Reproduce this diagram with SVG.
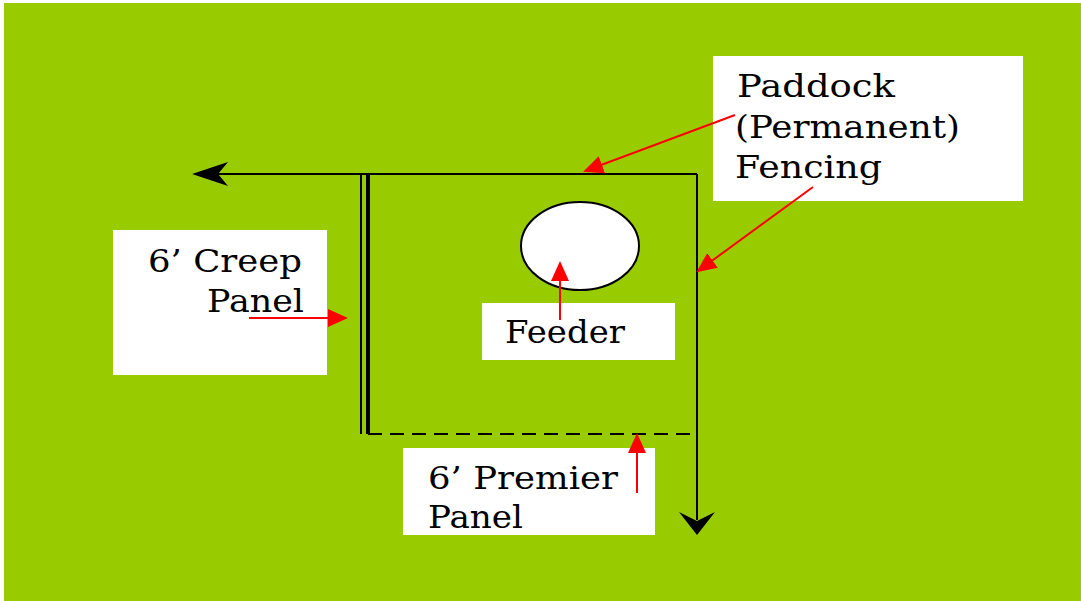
<svg xmlns="http://www.w3.org/2000/svg" width="1081" height="601" viewBox="0 0 1081 601">
<style>
.box{fill:#ffffff;stroke:none}
.t{font-family:"DejaVu Serif","Liberation Serif",serif;font-size:31px;fill:#000}
.fence{stroke:#000;stroke-width:2;fill:none}
.red{stroke:#ff0000;stroke-width:2;fill:none}
</style>
<defs>
<marker id="rh" viewBox="0 0 20 20" refX="18" refY="10" markerWidth="20" markerHeight="20" markerUnits="userSpaceOnUse" orient="auto">
<path d="M0,1 L20,10 L0,19 Z" fill="#ff0000"/>
</marker>
</defs>
<rect x="0" y="0" width="1081" height="601" fill="#ffffff"/>
<rect x="4" y="3" width="1077" height="598" fill="#99cc00"/>

<g id="feeder">
<ellipse cx="580" cy="246" rx="59" ry="44" fill="#ffffff" stroke="#000" stroke-width="2"/>
</g>

<g id="paddock-label">
<rect class="box" x="713" y="56" width="310" height="145"/>
<text class="t" x="737" y="97" textLength="158" lengthAdjust="spacingAndGlyphs">Paddock</text>
<text class="t" x="735" y="138" textLength="225" lengthAdjust="spacingAndGlyphs">(Permanent)</text>
<text class="t" x="735" y="178" textLength="147" lengthAdjust="spacingAndGlyphs">Fencing</text>
</g>

<g id="creep-label">
<rect class="box" x="113" y="230" width="214" height="145"/>
<text class="t" x="148" y="272" textLength="154" lengthAdjust="spacingAndGlyphs">6’ Creep</text>
<text class="t" x="207" y="312" textLength="97" lengthAdjust="spacingAndGlyphs">Panel</text>
</g>

<g id="feeder-label">
<rect class="box" x="482" y="303" width="193" height="57"/>
<text class="t" x="505" y="343" textLength="120" lengthAdjust="spacingAndGlyphs">Feeder</text>
</g>

<g id="premier-label">
<rect class="box" x="403" y="448" width="252" height="87"/>
<text class="t" x="428" y="489" textLength="190" lengthAdjust="spacingAndGlyphs">6’ Premier</text>
<text class="t" x="428" y="528" textLength="95" lengthAdjust="spacingAndGlyphs">Panel</text>
</g>

<g id="connectors">
<line class="fence" x1="210" y1="174" x2="697" y2="174"/>
<path d="M192,174 L228,162 L218,174 L228,186 Z" fill="#000"/>
<line class="fence" x1="697" y1="174" x2="697" y2="520"/>
<path d="M697,535 L679,512 L697,521 L715,512 Z" fill="#000"/>
<line x1="361" y1="174" x2="361" y2="434" stroke="#000" stroke-width="2"/>
<line x1="368" y1="174" x2="368" y2="434" stroke="#000" stroke-width="4"/>
<line x1="368" y1="434" x2="697" y2="434" stroke="#000" stroke-width="2" stroke-dasharray="14,8"/>
<line class="red" x1="735" y1="115" x2="585" y2="171" marker-end="url(#rh)"/>
<line class="red" x1="813" y1="187" x2="698" y2="271" marker-end="url(#rh)"/>
<line class="red" x1="560" y1="320" x2="560" y2="263" marker-end="url(#rh)"/>
<line class="red" x1="249" y1="318" x2="346" y2="318" marker-end="url(#rh)"/>
<line class="red" x1="637" y1="493" x2="637" y2="435" marker-end="url(#rh)"/>
</g>
</svg>
